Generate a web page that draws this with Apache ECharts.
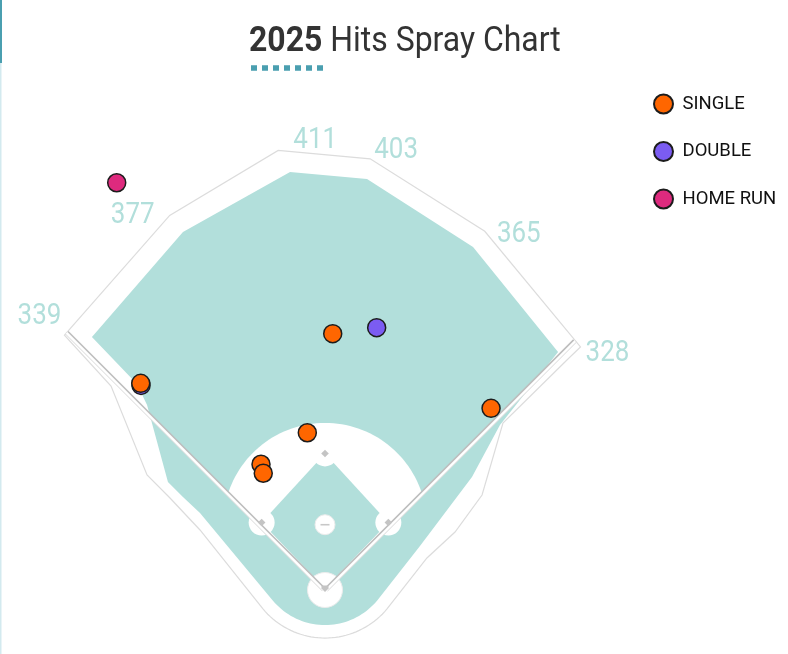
<!DOCTYPE html>
<html><head><meta charset="utf-8">
<script src="https://cdn.jsdelivr.net/npm/echarts@6/dist/echarts.min.js"></script>
<style>html,body{margin:0;padding:0;background:#fff}#c{width:788px;height:654px}</style>
</head><body><div id="c"></div>
<script>
// ---------- DATA (feet: x = toward right field, y = toward centre field, home plate = 0,0) ----------
const hitTypes = ['SINGLE', 'DOUBLE', 'HOME RUN'];
const singles = [[7.2, 237.7], [-171.9, 191.4], [154.9, 168.1], [-16.5, 145.3], [-59.7, 115.9], [-57.6, 107.5]];
const doubles = [[48.2, 243.3], [-171.6, 189.4]];
const homeRuns = [[-194.3, 378.5]];
const fenceDistances = [339, 377, 411, 403, 365, 328];
const fenceAngles = [-45.8, -22.6, -6.1, 6.0, 24.1, 46.6];
const fenceLabels = ['339', '377', '411', '403', '365', '328'];

// ---------- FIELD GEOMETRY (feet) ----------
const greenUpper = [[-217.4,234.6],[-132.5,332.6],[-32.6,388.5],[39.2,382.0],[138.1,318.6],[217.4,220.6],[163.2,152.5],[137.1,104.0],[88.6,39.6]];
const greenLeft = [[-116.6,70.4],[-132.5,85.4],[-146.5,99.3],[-166.0,171.2],[-175.4,190.8]];
const outerRight = [[225.7,213.2],[166.0,154.4],[146.5,87.2],[121.3,52.7],[95.1,28.5]];
const outerLeft = [[-116.6,54.6],[-144.6,84.4],[-166.0,105.9],[-199.6,188.9]];
const bottomArcCenter = [0, 29.1];
const greenArcRadius = 63.2, outerArcRadius = 75.3;
const bottomArcAngles = [-39.8, -140.2];
const mound = [0, 59.5];
const infieldArcRadius = 95;
const bases = [[59.1, 61.5], [0, 126], [-59.1, 61.5]];
const homePlate = [0, 0];

// ---------- LAYOUT / STYLE ----------
const PX_PER_FT = 1.072;
const HOME_PX = [325, 588.5];
const W = 788, H = 654;
const GREEN = '#b2dfdb';
const labelOffsets = [[-25, -19], [-37, 0], [37, -10], [26, -8], [34, 3], [27, 7]];
const COLORS = { 'SINGLE': '#ff6600', 'DOUBLE': '#7b5cf2', 'HOME RUN': '#de2a7e' };

const deg = Math.PI / 180;
function arc(center, r, a0, a1, n) {
  const out = [];
  for (let i = 0; i <= n; i++) {
    const a = (a0 + (a1 - a0) * i / n) * deg;
    out.push([center[0] + r * Math.cos(a), center[1] + r * Math.sin(a)]);
  }
  return out;
}
const fenceVerts = fenceDistances.map((d, i) => [d * Math.sin(fenceAngles[i] * deg), d * Math.cos(fenceAngles[i] * deg)]);
const fieldGreen = greenUpper.concat(arc(bottomArcCenter, greenArcRadius, bottomArcAngles[0], bottomArcAngles[1], 40), greenLeft);
const outline = fenceVerts.concat(outerRight, arc(bottomArcCenter, outerArcRadius, bottomArcAngles[0], bottomArcAngles[1], 40), outerLeft);

// infield dirt: fair-territory part of a circle around the mound
function infieldDirt() {
  const My = mound[1], R = infieldArcRadius;
  const t = My / Math.SQRT2 + Math.sqrt(R * R - My * My / 2);
  const px = t / Math.SQRT2;
  const a0 = Math.atan2(px - My, -px) / deg, a1 = Math.atan2(px - My, px) / deg;
  return [[0, 0]].concat(arc(mound, R, a0, a1, 60));
}
const dirt = infieldDirt();
const grass = [homePlate, bases[0], bases[1], bases[2]];

function renderField(params, api) {
  const c = p => api.coord(p);
  const P = arr => arr.map(c);
  const kids = [];
  kids.push({ type: 'polygon', shape: { points: P(outline) }, style: { fill: '#fff', stroke: '#dcdcdc', lineWidth: 1.2 } });
  kids.push({ type: 'polygon', shape: { points: P(fieldGreen) }, style: { fill: GREEN } });
  kids.push({ type: 'polygon', shape: { points: P(dirt) }, style: { fill: '#fff' } });
  kids.push({ type: 'polygon', shape: { points: P(grass) }, style: { fill: GREEN } });
  bases.forEach(b => { const q = c(b); kids.push({ type: 'circle', shape: { cx: q[0], cy: q[1], r: 13 }, style: { fill: '#fff' } }); });
  const m = c(mound);
  kids.push({ type: 'circle', shape: { cx: m[0], cy: m[1], r: 10 }, style: { fill: '#fff', stroke: '#ececec', lineWidth: 1 } });
  const h = c(homePlate);
  kids.push({ type: 'circle', shape: { cx: h[0], cy: h[1] + 1.5, r: 17.5 }, style: { fill: '#fff', stroke: '#ececec', lineWidth: 1 } });
  // foul lines
  [[-1, fenceDistances[0]], [1, fenceDistances[fenceDistances.length - 1]]].forEach(([s, L]) => {
    const e = c([s * L / Math.SQRT2, L / Math.SQRT2]);
    const n = [s / Math.SQRT2, 1 / Math.SQRT2];
    const off = (d) => ({ x1: h[0] + n[0] * d, y1: h[1] + n[1] * d, x2: e[0] + n[0] * d, y2: e[1] + n[1] * d });
    kids.push({ type: 'line', shape: off(1.8), style: { stroke: '#fff', lineWidth: 3.6 } });
    kids.push({ type: 'line', shape: off(3.6), style: { stroke: '#dadada', lineWidth: 1 } });
    kids.push({ type: 'line', shape: off(0), style: { stroke: '#bdbdbd', lineWidth: 1.6 } });
  });
  // bases
  bases.forEach(b => {
    const q = c(b), r = 3.8;
    kids.push({ type: 'polygon', shape: { points: [[q[0], q[1] - r], [q[0] + r, q[1]], [q[0], q[1] + r], [q[0] - r, q[1]]] }, style: { fill: '#c4c4c4' } });
  });
  kids.push({ type: 'polygon', shape: { points: [[h[0] - 3.5, h[1] - 3], [h[0] + 3.5, h[1] - 3], [h[0] + 3.5, h[1]], [h[0], h[1] + 3.5], [h[0] - 3.5, h[1]]] }, style: { fill: '#c4c4c4' } });
  kids.push({ type: 'line', shape: { x1: m[0] - 4.5, y1: m[1], x2: m[0] + 4.5, y2: m[1] }, style: { stroke: '#c8c8c8', lineWidth: 1.6 } });
  // distance labels
  fenceVerts.forEach((v, i) => {
    const q = c(v);
    kids.push({ type: 'text', x: q[0] + labelOffsets[i][0], y: q[1] + labelOffsets[i][1], scaleX: 0.88,
      style: { text: fenceLabels[i], fill: GREEN, fontFamily: 'Roboto', fontSize: 29.5, align: 'center', verticalAlign: 'middle' } });
  });
  return { type: 'group', children: kids };
}

const chart = echarts.init(document.getElementById('c'), null, { renderer: 'canvas' });
const scatterBase = (name, data, z) => ({
  name, type: 'scatter', data, z, symbol: 'circle', symbolSize: 18,
  itemStyle: { color: COLORS[name], borderColor: '#1c1c1c', borderWidth: 1.5, opacity: 1 },
  emphasis: { disabled: true }
});
chart.setOption({
  animation: false,
  backgroundColor: '#fff',
  grid: { left: 0, right: 0, top: 0, bottom: 0 },
  xAxis: { type: 'value', min: -HOME_PX[0] / PX_PER_FT, max: (W - HOME_PX[0]) / PX_PER_FT, show: false },
  yAxis: { type: 'value', min: -(H - HOME_PX[1]) / PX_PER_FT, max: HOME_PX[1] / PX_PER_FT, show: false },
  legend: {
    data: hitTypes, orient: 'vertical', left: 648, top: 88.5, itemWidth: 28, itemHeight: 19, itemGap: 26.5,
    icon: 'circle', selectedMode: false,
    textStyle: { fontFamily: 'Roboto', fontSize: 18.5, color: '#111' }
  },
  graphic: [
    { type: 'rect', shape: { x: 0, y: 0, width: 2, height: 63 }, style: { fill: '#4a9fb0' } },
    { type: 'rect', shape: { x: 0, y: 63, width: 1.5, height: 591 }, style: { fill: '#d3eaef' } },
    { type: 'text', x: 249, y: 42.5, scaleX: 0.9,
      style: { text: '{a|2025}{b| Hits Spray Chart}', verticalAlign: 'middle',
        rich: { a: { fontFamily: 'Roboto', fontWeight: 'bold', fontSize: 35.5, fill: '#333' },
                b: { fontFamily: 'Roboto', fontSize: 35.5, fill: '#333' } } } },
    { type: 'line', shape: { x1: 251, y1: 68, x2: 323, y2: 68 }, style: { stroke: '#4a9fb0', lineWidth: 5.5, lineDash: [6, 5] } }
  ],
  series: [
    { type: 'custom', name: 'field', coordinateSystem: 'cartesian2d', data: [[0, 0]], renderItem: renderField, silent: true, z: 1 },
    scatterBase('DOUBLE', doubles, 3),
    scatterBase('HOME RUN', homeRuns, 3),
    scatterBase('SINGLE', singles, 4)
  ]
});
</script></body></html>
